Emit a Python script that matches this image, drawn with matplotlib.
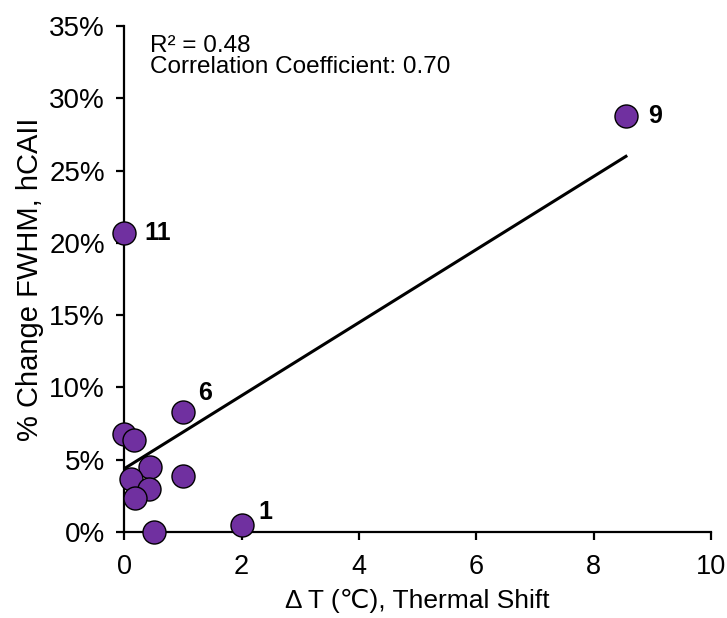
import numpy as np
import matplotlib
matplotlib.use("Agg")
import matplotlib.pyplot as plt
from matplotlib.ticker import FuncFormatter

plt.rcParams['font.family'] = ['Liberation Sans', 'DejaVu Sans']

# thermal shift (°C) vs % change in FWHM
dT = [8.55, 0.0, 1.0, 0.0, 0.17, 0.43, 1.0, 0.12, 0.42, 0.18, 0.5, 2.0]
fwhm = [28.8, 20.7, 8.3, 6.8, 6.4, 4.5, 3.9, 3.7, 3.0, 2.35, 0.0, 0.5]

# fit statistics as reported
r_squared = 0.48
corr_coef = 0.70

# labelled compounds: index into the arrays, label, offset in points
labels = [(0, "9", (21, 0)), (1, "11", (24, 0)), (2, "6", (16, 14)), (11, "1", (17, 9.5))]

x = np.array(dT)
y = np.array(fwhm)
slope, icpt = np.polyfit(x, y, 1)

fig = plt.figure(figsize=(7.27, 6.18), dpi=100)
ax = fig.add_axes([0.171, 0.139, 0.807, 0.819])

xl = np.array([x.min(), x.max()])
ax.plot(xl, slope * xl + icpt, color="black", lw=2.2, zorder=2)
ax.scatter(x, y, s=275, color="#7030A0", edgecolors="black", linewidths=1.0,
           zorder=3, clip_on=False)

for i, txt, off in labels:
    ax.annotate(txt, (x[i], y[i]), xytext=off, textcoords="offset points",
                ha="center", va="center", fontsize=18, fontweight="bold")

ax.text(0.044, 0.960, f"R² = {r_squared:.2f}", transform=ax.transAxes,
        fontsize=17.5, va="center")
ax.text(0.044, 0.918, f"Correlation Coefficient: {corr_coef:.2f}",
        transform=ax.transAxes, fontsize=17.5, va="center")

ax.set_xlim(0, 10)
ax.set_ylim(0, 35)
ax.set_xticks(range(0, 11, 2))
ax.set_yticks(range(0, 36, 5))
ax.yaxis.set_major_formatter(FuncFormatter(lambda v, p: f"{v:.0f}%"))
for s in ("top", "right"):
    ax.spines[s].set_visible(False)
for s in ("left", "bottom"):
    ax.spines[s].set_linewidth(1.6)
ax.tick_params(direction="out", length=6, width=1.6, labelsize=20)
ax.tick_params(axis="y", pad=8)
ax.tick_params(axis="x", pad=10, labelsize=19.5)

ax.set_xlabel("Δ T (℃), Thermal Shift", fontsize=19, labelpad=6)
ax.set_ylabel("% Change FWHM, hCAII", fontsize=21, labelpad=4)

fig.savefig("out.png", dpi=100)
